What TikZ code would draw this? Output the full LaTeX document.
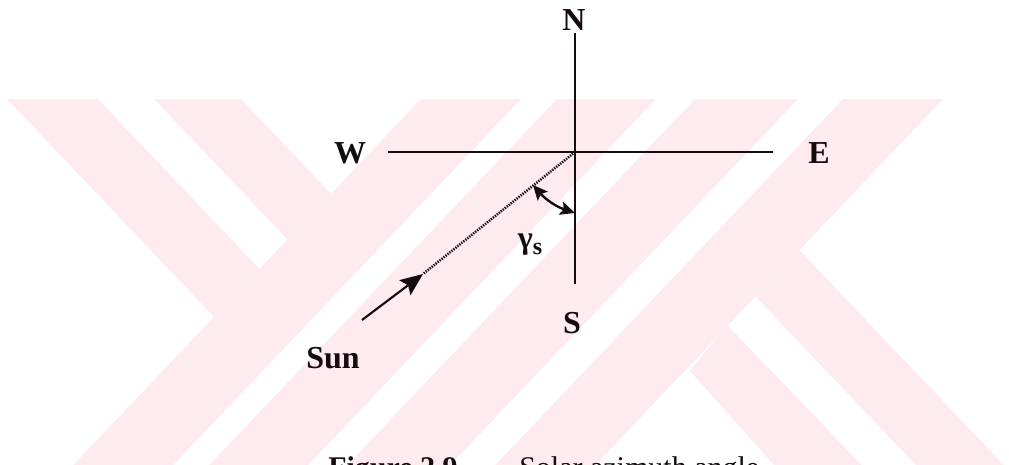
\documentclass[tikz,border=0pt]{standalone}
\usepackage{fontspec}
\setmainfont{Liberation Serif}
\usetikzlibrary{arrows.meta}
\definecolor{watermarkpink}{HTML}{FDEBEF}
\definecolor{compassink}{HTML}{140C0E}

\begin{document}
\begin{tikzpicture}[
  x=0.75pt,
  y=-0.75pt,
  line join=round,
  stripe/.style={fill=watermarkpink,draw=none},
  axisline/.style={draw=compassink,line width=1.6pt},
  sunray/.style={draw=compassink,line width=1.9pt,dash pattern=on 1pt off 0.9pt},
  sunarrow/.style={draw=compassink,line width=1.6pt,-{Stealth[length=17pt,width=14pt,inset=3pt]}},
  anglearrow/.style={draw=compassink,line width=1.8pt,
    {Stealth[length=11pt,width=10pt,inset=2pt]}-{Stealth[length=11pt,width=10pt,inset=2pt]}},
  compass/.style={text=compassink,font=\fontsize{24}{28}\selectfont\bfseries,inner sep=0pt,anchor=base},
  caption/.style={text=compassink,font=\fontsize{22.5}{26}\selectfont,inner sep=0pt,anchor=base west}
]
  \useasboundingbox (0,0) rectangle (1009,464);
  \clip (0,0) rectangle (1009,464);

  % Watermark: four full "/" stripes.
  \foreach \xl/\xr in {421/521,557/656,695/798,843/943} {
    \path[stripe] (\xl,99) -- (\xr,99) -- (\xr-352.45,470) -- (\xl-352.45,470) -- cycle;
  }
  % Watermark: "\" arms, cut by the "/" stripes.
  \path[stripe] (7,99) -- (98,99) -- (259.5,269) -- (214,316.9) -- cycle;
  \path[stripe] (154,99) -- (241,99) -- (331,193.7) -- (287.5,239.5) -- cycle;
  \path[stripe] (799.5,250) -- (1008.5,470) -- (920.5,470) -- (755.3,296.3) -- cycle;
  \path[stripe] (727,324.8) -- (866.5,470) -- (778.5,470) -- (690,371) -- cycle;

  % Compass axes.
  \coordinate (O) at (575,152);
  \coordinate (ntip) at (575,33);
  \coordinate (stip) at (575,284);
  \coordinate (wtip) at (388,152);
  \coordinate (etip) at (773,152);
  \draw[axisline] (wtip) -- (etip);
  \draw[axisline] (ntip) -- (stip);

  \node[compass] (north) at (574,30) {N};
  \node[compass] (west) at (350,163) {W};
  \node[compass] (east) at (819,163) {E};
  \node[compass] (south) at (572,333) {S};
  \node[compass] (sun) at (333,368) {Sun};

  % Sun ray and azimuth angle.
  \coordinate (raytip) at (423,274);
  \coordinate (raytail) at (362,320);
  \draw[sunray] (O) -- (raytip);
  \draw[sunarrow] (raytail) -- (raytip);

  \coordinate (gammaup) at (533,185);
  \coordinate (gammalow) at (575,213);
  \draw[anglearrow] (gammaup) to[bend right=15] (gammalow);
  \node[compass] (gamma) at (530,248) {γ\raisebox{-4.5pt}{\fontsize{18}{18}\selectfont\bfseries s}};

  % Caption, cut by the lower edge as in the page scan.
  \node[caption,font=\fontsize{22.5}{26}\selectfont\bfseries] (figno) at (328,477) {Figure 2.9};
  \node[caption] (figtitle) at (519,477) {Solar azimuth angle};
\end{tikzpicture}
\end{document}
